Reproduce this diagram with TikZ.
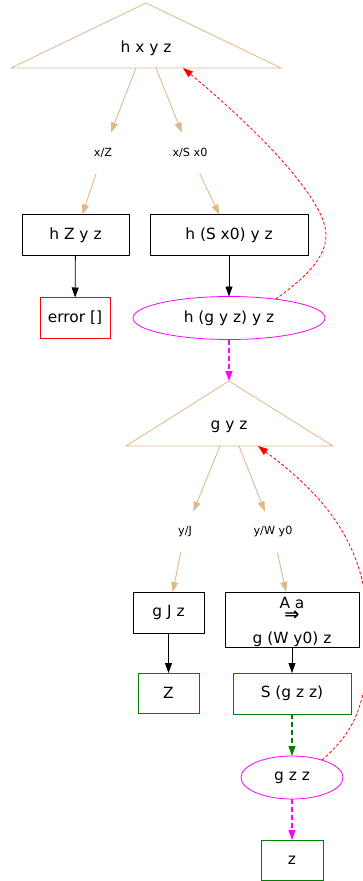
\documentclass[tikz,border=0pt]{standalone}
\usepackage{fontspec}
\setmainfont{DejaVu Sans}
\usetikzlibrary{arrows.meta,shapes.geometric}
\definecolor{burly}{HTML}{DEB887}
\definecolor{gvgreen}{HTML}{008000}
\definecolor{gvred}{HTML}{FF0000}
\definecolor{gvmag}{HTML}{FF00FF}
\begin{document}
\begin{tikzpicture}[x=1pt,y=-1pt,
  every node/.style={font=\fontsize{15.4}{17}\selectfont, inner sep=0pt, outer sep=0pt},
  lbl/.style={font=\fontsize{11.2}{13}\selectfont, minimum height=41pt, minimum width=34pt},
  rbox/.style={draw, rectangle, line width=0.8pt, minimum height=41pt},
  oval/.style={draw=gvmag, ellipse, line width=0.8pt, minimum height=43pt},
  tri/.style={draw=burly, line width=0.8pt},
  tipa/.style={-{Triangle[length=10pt,width=7pt]}},
  tanarrow/.style={draw=burly, fill=burly, line width=0.8pt, tipa},
  blkarrow/.style={draw=black, line width=0.8pt, tipa},
  magdash/.style={draw=gvmag, line width=1.1pt, dash pattern=on 5pt off 3pt, tipa},
  grndash/.style={draw=gvgreen, line width=1.1pt, dash pattern=on 5pt off 3pt, tipa},
  reddash/.style={draw=gvred, line width=0.8pt, dash pattern=on 3pt off 2pt, tipa}
]
\useasboundingbox (0,0) rectangle (363,881);

% ---- first triangle
\coordinate (A1) at (146,3);
\coordinate (L1) at (11,68);
\coordinate (R1) at (281,68);
\draw[tri] (A1) -- (L1) -- (R1) -- cycle;
\node (t1) at (146,48) {h x y z};
\coordinate (t1a) at (136,68);
\coordinate (t1b) at (156,68);
\coordinate (t1in) at (183,68);

\node[lbl] (lxz) at (103,153) {x/Z};
\node[lbl] (lxs) at (190,153) {x/S x0};

\node[rbox, minimum width=107pt] (hz) at (75.5,235) {h Z y z};
\node[rbox, minimum width=158pt] (hs) at (229,235) {h (S x0) y z};
\node[rbox, draw=gvred, minimum width=70pt] (err) at (75,318) {error []};
\node[oval, minimum width=192pt] (e1) at (229,318) {h (g y z) y z};

% ---- second triangle
\coordinate (A2) at (229,381);
\coordinate (L2) at (126,446);
\coordinate (R2) at (333,446);
\draw[tri] (A2) -- (L2) -- (R2) -- cycle;
\node (t2) at (229,427) {g y z};
\coordinate (t2a) at (220,446);
\coordinate (t2b) at (239,446);
\coordinate (t2in) at (258,446);

\node[lbl] (lyj) at (185,532) {y/J};
\node[lbl] (lyw) at (273,532) {y/W y0};

\node[rbox, minimum width=71pt] (gj) at (168.5,612.5) {g J z};
\node[rbox, minimum width=134pt, minimum height=55pt] (gw) at (292,619.5) {};
\node[align=center, font=\fontsize{15.4}{17}\selectfont] (gwt) at ([yshift=-2pt]gw.center)
      {A a\\[-5pt]{\fontsize{18}{18}\selectfont\bfseries ⇒}\\[6pt]g (W y0) z};
\node[rbox, draw=gvgreen, minimum width=61pt, minimum height=40pt] (bz) at (168.5,693) {Z};
\node[rbox, draw=gvgreen, minimum width=118pt] (sg) at (292,693.5) {S (g z z)};
\node[oval, minimum width=102pt] (e2) at (292,777.5) {g z z};
\node[rbox, draw=gvgreen, minimum width=62pt, minimum height=40pt] (zz) at (292,860) {z};

% ---- connectors
\draw[tanarrow] (t1a) -- (lxz);
\draw[tanarrow] (t1b) -- (lxs);
\draw[tanarrow] (lxz) -- (hz);
\draw[tanarrow] (lxs) -- (hs);
\draw[blkarrow] (hz) -- (err);
\draw[blkarrow] (hs) -- (e1);
\draw[magdash] (e1) -- (A2);
\draw[reddash] (e1.22) .. controls (305,278) and (326,258) .. (326,235)
   .. controls (326,195) and (240,115) .. (t1in);

\draw[tanarrow] (t2a) -- (lyj);
\draw[tanarrow] (t2b) -- (lyw);
\draw[tanarrow] (lyj) -- (gj);
\draw[tanarrow] (lyw) -- (gw);
\draw[blkarrow] (gj) -- (bz);
\draw[blkarrow] (gw) -- (sg);
\draw[grndash] (sg) -- (e2);
\draw[magdash] (e2) -- (zz);
\draw[reddash] (e2.30) .. controls (350,735) and (368,710) .. (368,640)
   .. controls (370,550) and (330,500) .. (t2in);
\end{tikzpicture}
\end{document}
